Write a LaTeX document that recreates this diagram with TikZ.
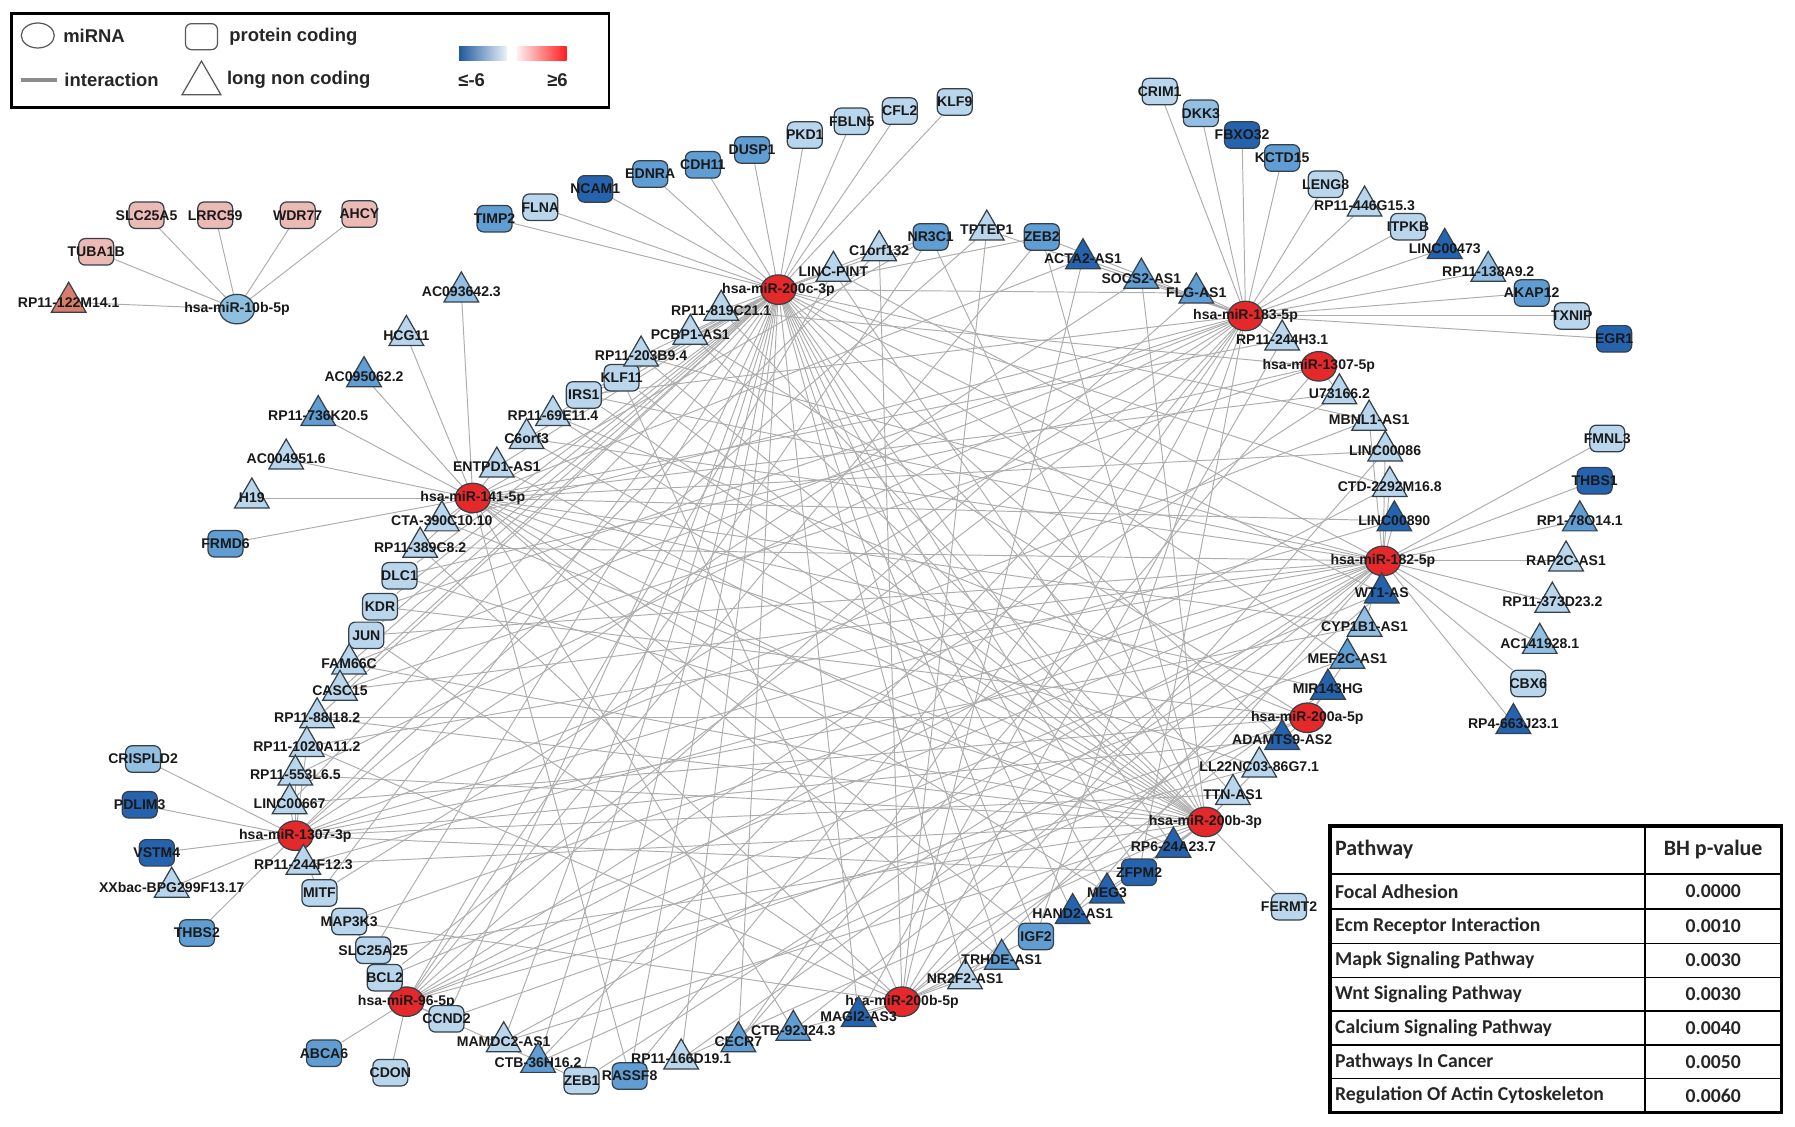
\documentclass[tikz,border=0pt]{standalone}
\usepackage{fontspec}
\setmainfont{Liberation Sans}
\newfontfamily\tabfont{Carlito}
\usetikzlibrary{shapes.geometric,backgrounds}

\definecolor{lb}{HTML}{BAD6EC}
\definecolor{mlb}{HTML}{93BFE2}
\definecolor{mb}{HTML}{5F9DD2}
\definecolor{db}{HTML}{2563AE}
\definecolor{mired}{HTML}{E5282A}
\definecolor{pk}{HTML}{EBBAB5}
\definecolor{sal}{HTML}{D97E6C}
\definecolor{mirblue}{HTML}{8CC0DE}
\definecolor{nodeline}{HTML}{34404A}

\tikzset{
  gnode/.style={draw=nodeline, line width=0.7pt, inner sep=0pt, outer sep=0pt},
  gene/.style={gnode, rounded corners=1.3mm, minimum width=7mm, minimum height=5.3mm},
  lnc/.style={gnode, regular polygon, regular polygon sides=3, minimum size=8mm},
  mirna/.style={gnode, ellipse, fill=mired, minimum width=7mm, minimum height=5.9mm},
  lab/.style={font=\fontsize{8}{9}\selectfont\bfseries, text=black!90, inner sep=0pt},
  link/.style={draw=black!32, line width=0.55pt},
  legtxt/.style={font=\fontsize{10.5}{12}\selectfont\bfseries, text=black!85, inner sep=0pt},
  tabtxt/.style={font=\tabfont\fontsize{11.2}{13}\selectfont\bfseries, text=black!85, inner sep=0pt},
  tabhead/.style={font=\tabfont\fontsize{12.5}{14}\selectfont\bfseries, text=black!85, inner sep=0pt},
}

\begin{document}
\begin{tikzpicture}[x=0.229mm, y=-0.229mm]
\useasboundingbox (0,0) rectangle (1568,984);

% miRNA hubs
\foreach \n/\x/\y/\t in {
  h200c/680/253/hsa-miR-200c-3p, h183/1088/276/hsa-miR-183-5p,
  h1307a/1152/320/hsa-miR-1307-5p, h141/413/435/hsa-miR-141-5p,
  h182/1208/490/hsa-miR-182-5p, h200a/1142/627/hsa-miR-200a-5p,
  h200b3/1053/718/hsa-miR-200b-3p, h1307b/258/730/hsa-miR-1307-3p,
  h96/355/875/hsa-miR-96-5p, h200b5/788/875/hsa-miR-200b-5p}
  \node[mirna, label={[lab]center:\t}] (\n) at (\x,\y) {};
\node[mirna, fill=mirblue, label={[lab]center:hsa-miR-10b-5p}] (h10b) at (207,270) {};

% protein coding
\foreach \n/\x/\y/\c/\t in {
  timp2/432/191/mb/TIMP2, flna/472/181/lb/FLNA, ncam1/520/165/db/NCAM1,
  ednra/568/152/mb/EDNRA, cdh11/614/144/mb/CDH11, dusp1/657/131/mb/DUSP1,
  pkd1/703/118/lb/PKD1, fbln5/744/106/lb/FBLN5, cfl2/786/97/lb/CFL2,
  klf9/834/89/lb/KLF9, crim1/1013/80/lb/CRIM1, dkk3/1049/99/mlb/DKK3,
  fbxo32/1085/118/db/FBXO32, kctd15/1120/138/mb/KCTD15, leng8/1158/161/lb/LENG8,
  itpkb/1230/198/lb/ITPKB, akap12/1338/256/mb/AKAP12, txnip/1373/276/lb/TXNIP,
  egr1/1410/296/db/EGR1, frmd6/197/475/mb/FRMD6, crispld2/125/663/mlb/CRISPLD2,
  pdlim3/122/703/db/PDLIM3, vstm4/137/745/db/VSTM4, thbs2/172/815/mb/THBS2,
  abca6/283/920/mb/ABCA6, cdon/341/937/lb/CDON, fermt2/1126/792/lb/FERMT2,
  fmnl3/1404/383/lb/FMNL3, thbs1/1393/420/db/THBS1, cbx6/1335/597/lb/CBX6,
  slc25a5/128/188/pk/SLC25A5, lrrc59/188/188/pk/LRRC59, wdr77/260/188/pk/WDR77,
  ahcy/314/187/pk/AHCY, tuba1b/84/220/pk/TUBA1B,
  nr3c1/813/207/mb/NR3C1, zeb2/910/207/mb/ZEB2, zfpm2/995/762/db/ZFPM2,
  igf2/905/818/mb/IGF2, rassf8/550/940/mb/RASSF8, zeb1/508/944/lb/ZEB1,
  ccnd2/390/890/lb/CCND2, bcl2/336/854/lb/BCL2, slc25a25/326/830/lb/SLC25A25,
  map3k3/305/805/lb/MAP3K3, mitf/279/780/lb/MITF, jun/320/555/lb/JUN,
  kdr/332/530/lb/KDR, dlc1/349/503/lb/DLC1, irs1/510/345/lb/IRS1,
  klf11/543/330/lb/KLF11}
  \node[gene, fill=\c, label={[lab]center:\t}] (\n) at (\x,\y) {};

% long non coding
\foreach \n/\x/\y/\c/\t in {
  rp446g/1192/180/lb/RP11-446G15.3, l473/1262/217/db/LINC00473,
  rp138a/1300/237/mlb/RP11-138A9.2, ac0936/403/255/mlb/AC093642.3,
  hcg11/355/293/lb/HCG11, ac0950/318/329/mb/AC095062.2,
  rp736/278/363/mb/RP11-736K20.5, ac0049/250/401/lb/AC004951.6,
  h19/220/435/lb/H19, xxbac/150/775/lb/XXbac-BPG299F13.17,
  rp178/1380/455/mb/RP1-78O14.1, rap2c/1368/490/lb/RAP2C-AS1,
  rp373/1356/526/lb/RP11-373D23.2, ac141/1345/562/mlb/AC141928.1,
  rp4663/1322/632/db/RP4-663J23.1, rp122m/60/264/sal/RP11-122M14.1,
  rp819/630/271/lb/RP11-819C21.1, pcbp1/603/292/lb/PCBP1-AS1,
  rp203/560/311/lb/RP11-203B9.4, rp69e/483/363/lb/RP11-69E11.4,
  c6orf3/460/383/lb/C6orf3, entpd1/434/408/lb/ENTPD1-AS1,
  cta390/386/455/lb/CTA-390C10.10, rp389/367/478/lb/RP11-389C8.2,
  fam66c/305/580/lb/FAM66C, casc15/297/603/lb/CASC15,
  rp88/277/627/lb/RP11-88I18.2, rp1020/268/652/lb/RP11-1020A11.2,
  rp553/258/677/lb/RP11-553L6.5, l667/253/702/lb/LINC00667,
  rp244f/265/755/lb/RP11-244F12.3, mamdc2/440/910/lb/MAMDC2-AS1,
  ctb36/470/928/mb/CTB-36H16.2, rp166/595/925/lb/RP11-166D19.1,
  cecr7/645/910/mb/CECR7, ctb92/693/900/mb/CTB-92J24.3,
  magi2/750/888/db/MAGI2-AS3, nr2f2/843/855/lb/NR2F2-AS1,
  trhde/875/838/mb/TRHDE-AS1, hand2/937/798/db/HAND2-AS1,
  meg3/967/780/db/MEG3, rp6/1025/740/db/RP6-24A23.7,
  ttn/1077/694/lb/TTN-AS1, ll22/1100/670/lb/LL22NC03-86G7.1,
  adamts/1120/646/db/ADAMTS9-AS2, mir143/1160/602/db/MIR143HG,
  mef2c/1177/575/mb/MEF2C-AS1, cyp/1192/547/mlb/CYP1B1-AS1,
  wt1/1207/518/db/WT1-AS, l890/1218/455/db/LINC00890,
  ctd/1214/425/lb/CTD-2292M16.8, l86/1210/394/lb/LINC00086,
  mbnl/1196/367/lb/MBNL1-AS1, u73/1170/344/lb/U73166.2,
  rp244h/1120/297/lb/RP11-244H3.1, flg/1045/256/mb/FLG-AS1,
  socs2/997/243/mb/SOCS2-AS1, acta2/946/226/db/ACTA2-AS1,
  tptep/862/201/lb/TPTEP1, c1orf/768/219/lb/C1orf132,
  pint/728/237/lb/LINC-PINT}
  \node[lnc, fill=\c, label={[lab]center:\t}] (\n) at (\x,\y) {};

% interactions
\begin{pgfonlayer}{background}
\foreach \h/\ts in {
  h200c/{timp2,flna,ncam1,ednra,cdh11,dusp1,pkd1,fbln5,cfl2,klf9},
  h183/{crim1,dkk3,fbxo32,kctd15,leng8,rp446g,itpkb,l473,rp138a,akap12,txnip,egr1},
  h141/{ac0936,hcg11,ac0950,rp736,ac0049,h19,frmd6},
  h1307b/{crispld2,pdlim3,vstm4,xxbac,thbs2},
  h96/{abca6,cdon}, h200b3/{fermt2},
  h182/{fmnl3,thbs1,rp178,rap2c,rp373,ac141,cbx6,rp4663},
  h10b/{slc25a5,lrrc59,wdr77,ahcy,tuba1b,rp122m}}
  \foreach \t in \ts \draw[link] (\h) -- (\t);
\foreach \t/\hs in {
  pint/{h200c,h200b3,h96,h182}, c1orf/{h200c,h200b5,h1307b},
  nr3c1/{h200c,h200b3,h96,h141}, tptep/{h183,h1307b,h200b5},
  zeb2/{h200c,h183,h200b3,h96}, acta2/{h183,h141,h200b5},
  socs2/{h183,h1307b,h200b3}, flg/{h183,h200c,h96},
  rp244h/{h183,h200b5,h141}, u73/{h1307a,h141,h96},
  mbnl/{h182,h200c,h1307b}, l86/{h182,h141,h200b5},
  ctd/{h182,h200c,h96}, l890/{h182,h141,h1307b},
  wt1/{h182,h200c,h200b5,h96}, cyp/{h182,h141,h1307b},
  mef2c/{h200a,h200c,h96}, mir143/{h200a,h141,h200b5},
  adamts/{h200a,h200c,h1307b}, ll22/{h200b3,h141,h96},
  ttn/{h200b3,h200c,h1307b}, rp6/{h200b3,h200c,h141},
  zfpm2/{h200b3,h200c,h1307b,h183}, meg3/{h200b3,h200c,h141},
  hand2/{h200b3,h200c,h182}, igf2/{h200b5,h200c,h141,h183},
  trhde/{h200b5,h200c,h141}, nr2f2/{h200b5,h200c,h182},
  magi2/{h200b5,h200c,h183}, ctb92/{h200b5,h141,h182},
  cecr7/{h200c,h183,h1307a}, rp166/{h200c,h182,h200b3},
  rassf8/{h200c,h183,h141}, zeb1/{h200c,h182,h96},
  ctb36/{h200c,h183,h200a}, mamdc2/{h200c,h182,h200b3},
  ccnd2/{h96,h200c,h200a}, bcl2/{h96,h183,h182},
  slc25a25/{h96,h200c,h200b3}, map3k3/{h96,h182,h200b5},
  mitf/{h1307b,h200c,h183}, rp244f/{h1307b,h182,h200b3},
  l667/{h1307b,h200c,h200a}, rp553/{h1307b,h183,h200b3},
  rp1020/{h1307b,h182,h200b5}, rp88/{h200c,h200a,h200b3},
  casc15/{h200c,h182,h1307a}, fam66c/{h200c,h200b3,h183},
  jun/{h200c,h182,h200b5}, kdr/{h200c,h200a,h183},
  dlc1/{h200c,h200b3,h1307a}, rp389/{h141,h182,h200b5},
  cta390/{h141,h200b3,h183}, entpd1/{h141,h200c,h200b3},
  c6orf3/{h200c,h200b3,h182}, rp69e/{h200c,h200b3,h200a},
  irs1/{h200c,h200b3,h182,h183}, klf11/{h200c,h200b3,h200b5},
  rp203/{h200c,h200b3,h182}, pcbp1/{h200c,h200b3,h200a},
  rp819/{h200c,h200b3,h1307a}}
  \foreach \h in \hs \draw[link] (\t) -- (\h);
\end{pgfonlayer}

% legend
\draw[line width=1.6pt] (10,12) rectangle (532,94);
\node[draw=black!65, line width=0.7pt, ellipse, minimum width=6.6mm, minimum height=5mm] (legmir) at (33,31) {};
\node[legtxt, anchor=west] (legmirt) at (55,31) {miRNA};
\coordinate (lega) at (18,70);
\coordinate (legb) at (50,70);
\draw[black!45, line width=2.6pt] (lega) -- (legb);
\node[legtxt, anchor=west] (leglinkt) at (56,70) {interaction};
\node[draw=black!65, line width=0.7pt, rounded corners=1.2mm, minimum width=6.4mm, minimum height=5.2mm] (legbox) at (176,32) {};
\node[legtxt, anchor=west] (legboxt) at (200,32) {protein coding};
\node[draw=black!65, line width=0.7pt, regular polygon, regular polygon sides=3, minimum size=9mm] (legtri) at (176,73) {};
\node[legtxt, anchor=west] (legtrit) at (198,70) {long non coding};
\shade[left color=db!90!black, right color=lb!30] (401,41) rectangle (443,53);
\shade[left color=mired!8, right color=red!85!pink] (452,41) rectangle (495,53);
\node[legtxt] (leglow) at (412,70) {≤-6};
\node[legtxt] (leghigh) at (487,70) {≥6};

% pathway table
\foreach \y in {763.5,794,824,853.7,883.1,912.8,941.9}
  \draw[line width=0.8pt] (1162,\y) -- (1556,\y);
\draw[line width=0.8pt] (1437,721.5) -- (1437,972);
\draw[line width=2pt] (1162,721.5) rectangle (1556,972);
\node[tabhead, anchor=west] (th1) at (1166,742.5) {Pathway};
\node[tabhead] (th2) at (1496.5,742.5) {BH p-value};
\foreach \i/\y/\p/\v in {
  1/778.7/Focal Adhesion/0.0000,
  2/809/Ecm Receptor Interaction/0.0010,
  3/839/Mapk Signaling Pathway/0.0030,
  4/868.4/Wnt Signaling Pathway/0.0030,
  5/898/Calcium Signaling Pathway/0.0040,
  6/927.4/Pathways In Cancer/0.0050,
  7/957/Regulation Of Actin Cytoskeleton/0.0060}{
  \node[tabtxt, anchor=west] (tp\i) at (1166,\y) {\p};
  \node[tabtxt] (tv\i) at (1496.5,\y) {\v};
}
\end{tikzpicture}
\end{document}
